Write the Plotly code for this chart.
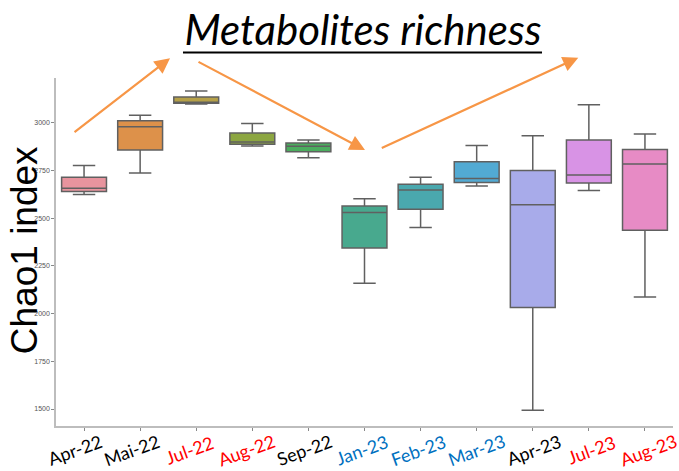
import plotly.graph_objects as go

# Sampling months and their Chao1 box statistics
months = ["Apr-22", "Mai-22", "Jul-22", "Aug-22", "Sep-22", "Jan-23",
          "Feb-23", "Mar-23", "Apr-23", "Jul-23", "Aug-23"]
lower_whisker = [2624, 2736, 3098, 2878, 2816, 2159, 2451, 2668, 1493, 2645, 2087]
q1_values = [2640, 2857, 3102, 2887, 2848, 2343, 2547, 2687, 2032, 2684, 2437]
median_values = [2656, 2979, 3106, 2899, 2876, 2530, 2647, 2708, 2570, 2726, 2783]
q3_values = [2714, 3010, 3134, 2946, 2894, 2563, 2677, 2795, 2750, 2909, 2860]
upper_whisker = [2775, 3039, 3166, 2995, 2909, 2601, 2714, 2881, 2932, 3094, 2941]

box_colors = ["#e8949e", "#dd914a", "#b5a048", "#8ca641", "#4bad5e", "#48a98e",
              "#4aa8ae", "#52aad3", "#a8abea", "#d893e5", "#e78bc5"]
label_colors = ["black", "black", "#ff0000", "#ff0000", "black", "#0070c0",
                "#0070c0", "#0070c0", "black", "#ff0000", "#ff0000"]
y_ticks = [1500, 1750, 2000, 2250, 2500, 2750, 3000]

fig = go.Figure()
for i, m in enumerate(months):
    fig.add_trace(go.Box(
        x=[m],
        q1=[q1_values[i]], median=[median_values[i]], q3=[q3_values[i]],
        lowerfence=[lower_whisker[i]], upperfence=[upper_whisker[i]],
        fillcolor=box_colors[i],
        line=dict(color="#606060", width=1.5),
        width=0.8, whiskerwidth=0.5, boxpoints=False,
        showlegend=False, hoverinfo="skip",
    ))

# Rotated month labels, coloured by season
for i, m in enumerate(months):
    fig.add_annotation(
        x=m, y=0, xref="x", yref="paper",
        text=m, showarrow=False, textangle=-20,
        xanchor="center", yanchor="middle",
        xshift=-9.5 + 1.3 * i, yshift=-24,
        font=dict(family="Lato", size=18, color=label_colors[i]),
    )

# Trend arrows
arrow_style = dict(xref="paper", yref="paper", text="", showarrow=True,
                   arrowhead=2, arrowsize=1.4, arrowwidth=2.2,
                   arrowcolor="#f79646", standoff=0)
fig.add_annotation(x=0.1848, y=1.0567, ax=-97, ay=75, **arrow_style)
fig.add_annotation(x=0.5008, y=0.7929, ax=-168, ay=-89, **arrow_style)
fig.add_annotation(x=0.8465, y=1.0584, ax=-198, ay=91, **arrow_style)

# Y axis title
fig.add_annotation(
    x=-0.052, y=0.505, xref="paper", yref="paper",
    text="Chao1 index", showarrow=False, textangle=-90,
    xanchor="center", yanchor="middle",
    font=dict(family="Liberation Sans", size=37, color="black"),
)

# Title underline
fig.add_shape(type="line", xref="paper", yref="paper",
              x0=0.2058, x1=0.7877, y0=1.073, y1=1.073,
              line=dict(color="black", width=2))

fig.update_layout(
    width=679, height=471,
    margin=dict(l=56, r=6, t=78, b=45),
    paper_bgcolor="white", plot_bgcolor="white",
    boxmode="overlay",
    title=dict(
        text="<i>Metabolites richness</i>",
        x=363 / 679, xanchor="center", xref="container",
        y=1 - 30 / 471, yanchor="middle", yref="container",
        font=dict(family="Lato", size=42, color="black"),
    ),
    xaxis=dict(
        type="category", categoryorder="array", categoryarray=months,
        range=[-0.5, 10.5], showticklabels=False,
        ticks="outside", ticklen=3, tickcolor="#888",
        showline=True, linecolor="#bdbdbd", linewidth=1.5,
        showgrid=False, zeroline=False,
    ),
    yaxis=dict(
        range=[1411, 3234], tickvals=y_ticks,
        ticktext=[str(v) for v in y_ticks],
        ticks="outside", ticklen=3, tickcolor="#888",
        tickfont=dict(family="Liberation Sans", size=7, color="#555"),
        showline=True, linecolor="#bdbdbd", linewidth=1.5,
        showgrid=False, zeroline=False,
    ),
)

fig.write_html("out.html")
